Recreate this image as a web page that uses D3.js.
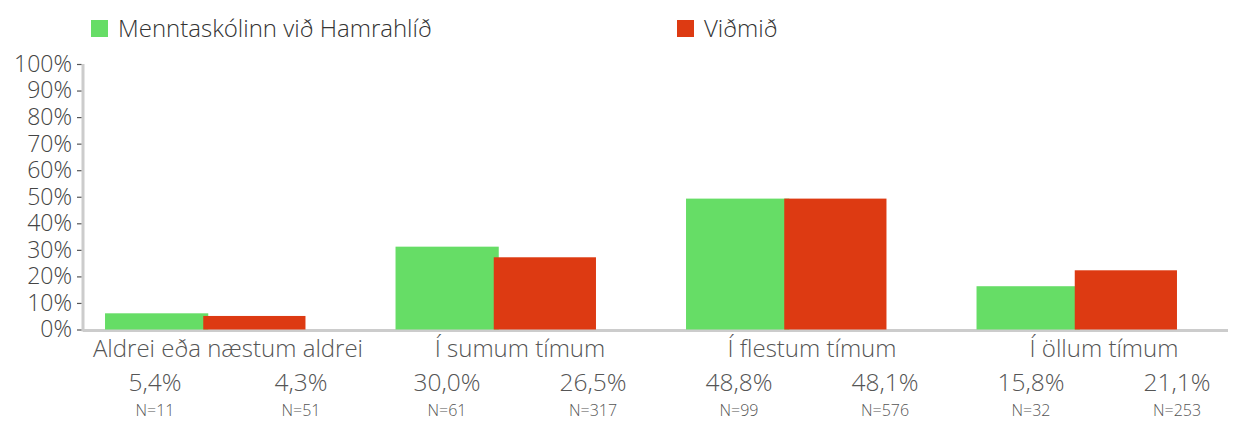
<!DOCTYPE html>
<html>
<head>
<meta charset="utf-8">
<script src="https://cdn.jsdelivr.net/npm/d3@7"></script>
<style>
  html, body { margin: 0; padding: 0; background: #fff; }
  svg { display: block; font-family: "Open Sans", "Noto Sans", sans-serif; }
</style>
</head>
<body>
<svg id="chart" width="1234" height="421"></svg>
<script>
const categories = ["Aldrei eða næstum aldrei", "Í sumum tímum", "Í flestum tímum", "Í öllum tímum"];
const seriesNames = ["Menntaskólinn við Hamrahlíð", "Viðmið"];
const seriesColors = ["#66dd66", "#dd3a12"];
// bar heights as drawn (percent)
const schoolValues = [6.1, 31.2, 49.3, 16.3];
const benchmarkValues = [5.1, 27.2, 49.3, 22.3];
// table labels
const schoolLabels = ["5,4%", "30,0%", "48,8%", "15,8%"];
const benchmarkLabels = ["4,3%", "26,5%", "48,1%", "21,1%"];
const schoolN = ["N=11", "N=61", "N=99", "N=32"];
const benchmarkN = ["N=51", "N=317", "N=576", "N=253"];
const yTicks = [0, 10, 20, 30, 40, 50, 60, 70, 80, 90, 100];

const FONT = "'Open Sans', 'Noto Sans', sans-serif";
const svg = d3.select("#chart");

const y = d3.scaleLinear().domain([0, 100]).range([329.5, 64]);
const x0 = d3.scaleBand().domain(categories).range([60, 1222]).paddingInner(0.31).paddingOuter(0.155);
const x1 = d3.scaleBand().domain(seriesNames).range([0, x0.bandwidth()]);

// table columns scale
const cols = [];
categories.forEach((c, i) => { cols.push(i + "a"); cols.push(i + "b"); });
const xc = d3.scaleBand().domain(cols).range([82, 1250]);
const xg = d3.scaleBand().domain(categories).range([82, 1250]);

// baseline
svg.append("line")
  .attr("x1", 83).attr("x2", 1228)
  .attr("y1", y(0) + 1).attr("y2", y(0) + 1)
  .attr("stroke", "#cccccc").attr("stroke-width", 3);

// y axis
const yAxis = d3.axisLeft(y).tickValues(yTicks).tickFormat(d => d + "%").tickSize(5).tickPadding(6);
const gy = svg.append("g").attr("transform", "translate(83,0)").call(yAxis);
gy.select(".domain").attr("stroke", "#cccccc").attr("stroke-width", 3).attr("d", `M0,${y(100)}V${y(0)+2}`);
gy.selectAll(".tick line").attr("stroke", "#555").attr("stroke-width", 1.2).attr("x1", -1.5).attr("x2", -6);
gy.selectAll(".tick text").attr("fill", "#444").attr("font-size", 23).attr("font-family", FONT).attr("font-weight", 300);

// bars
const groups = svg.append("g").selectAll("g").data(categories).join("g")
  .attr("transform", d => `translate(${x0(d)},0)`);
groups.append("rect")
  .attr("x", x1(seriesNames[0]))
  .attr("y", (d, i) => y(schoolValues[i]))
  .attr("width", x1.bandwidth() + 3)
  .attr("height", (d, i) => y(0) - y(schoolValues[i]))
  .attr("fill", seriesColors[0]);
groups.append("rect")
  .attr("x", x1(seriesNames[1]) - 2)
  .attr("y", (d, i) => y(benchmarkValues[i]))
  .attr("width", x1.bandwidth() + 2)
  .attr("height", (d, i) => y(0) - y(benchmarkValues[i]))
  .attr("fill", seriesColors[1]);

// category labels
svg.append("g").selectAll("text").data(categories).join("text")
  .attr("x", d => xg(d) + xg.bandwidth() / 2)
  .attr("y", 357)
  .attr("text-anchor", "middle")
  .attr("font-size", 24).attr("font-weight", 300).attr("fill", "#555")
  .text(d => d);

// percent labels & N labels
const tableRows = [];
categories.forEach((c, i) => {
  tableRows.push({ col: i + "a", pct: schoolLabels[i], n: schoolN[i] });
  tableRows.push({ col: i + "b", pct: benchmarkLabels[i], n: benchmarkN[i] });
});
svg.append("g").selectAll("text").data(tableRows).join("text")
  .attr("x", d => xc(d.col) + xc.bandwidth() / 2)
  .attr("y", 391)
  .attr("text-anchor", "middle")
  .attr("font-size", 24.5).attr("font-weight", 300).attr("fill", "#555")
  .text(d => d.pct);
svg.append("g").selectAll("text").data(tableRows).join("text")
  .attr("x", d => xc(d.col) + xc.bandwidth() / 2)
  .attr("y", 416)
  .attr("text-anchor", "middle")
  .attr("font-size", 16).attr("font-weight", 300).attr("fill", "#555")
  .text(d => d.n);

// legend
const legendX = [91, 677];
const lg = svg.append("g").selectAll("g").data(seriesNames).join("g")
  .attr("transform", (d, i) => `translate(${legendX[i]},20)`);
lg.append("rect").attr("width", 17).attr("height", 17).attr("fill", (d, i) => seriesColors[i]);
lg.append("text").attr("x", 27).attr("y", 17)
  .attr("font-size", 24).attr("font-weight", 300).attr("fill", "#333")
  .text(d => d);
</script>
</body>
</html>
